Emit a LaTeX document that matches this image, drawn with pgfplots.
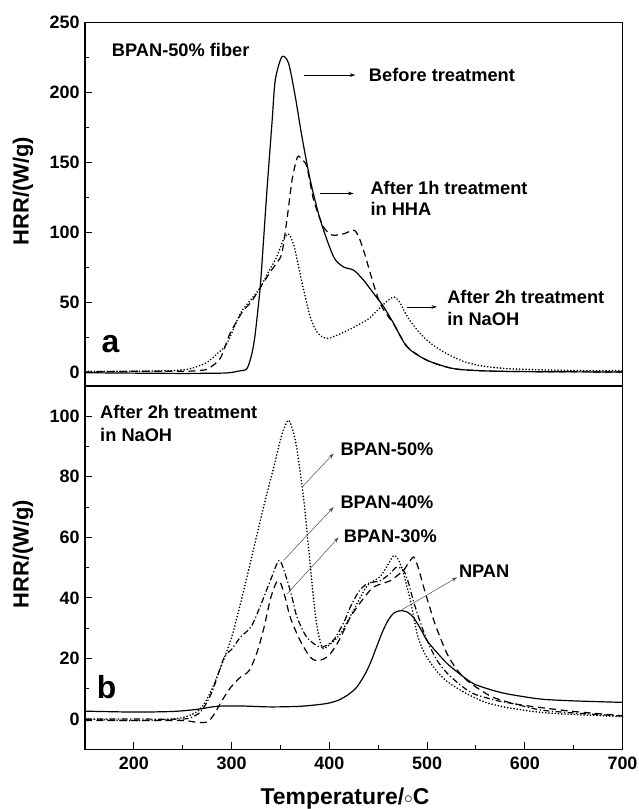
\documentclass[border=0pt]{standalone}
\usepackage{fontspec}
\setmainfont{Liberation Sans}
\usepackage{pgfplots}
\pgfplotsset{compat=1.18}
\usetikzlibrary{arrows.meta}
\begin{document}
\begin{tikzpicture}
\tikzset{
  ann/.style={font=\bfseries\fontsize{18.3}{18.3}\selectfont, inner sep=0pt},
  arr/.style={-{Stealth[length=5.5bp,width=3.5bp]}, line width=0.5bp},
}
\pgfplotsset{
  hrrbase/.style={
    scale only axis, width=537.5bp, height=363.3bp,
    xmin=150, xmax=700, clip=false,
    axis line style={line width=1.2bp},
    tick pos=left,
    tick style={black, line width=1bp},
    major tick length=7bp, minor tick length=4bp,
    tick label style={font=\bfseries\fontsize{18}{18}\selectfont},
    /pgf/number format/assume math mode=true,
    yticklabel style={xshift=-2bp},
    xticklabel style={yshift=-4bp},
    ylabel={HRR/(W/g)},
    every axis y label/.style={at={(axis description cs:-0.1153,0.537)}, rotate=90, anchor=center, font=\bfseries\fontsize{22}{22}\selectfont},
    minor y tick num=1,
  },
  solidc/.style={black, line width=1.2bp, smooth, tension=0.45},
  dashc/.style={black, line width=1.2bp, smooth, tension=0.45, dash pattern=on 7bp off 4.5bp},
  dotc/.style={black, line width=1.8bp, smooth, tension=0.45, line cap=round, dash pattern=on 0bp off 3.2bp},
  dashdotc/.style={black, line width=1.2bp, smooth, tension=0.45, dash pattern=on 6bp off 2.5bp on 1.2bp off 2.5bp},
}
% ---------------- bottom panel (b) ----------------
\begin{axis}[hrrbase, at={(0bp,0bp)}, anchor=south west,
  ymin=-10, ymax=110, ytick={0,20,...,100},
  xtick={200,300,...,700}, minor x tick num=1,
  xlabel={Temperature/\raisebox{0.15ex}{\fontsize{17}{17}\selectfont$\circ$}C},
  every axis x label/.style={at={(axis description cs:0.4837,-0.1533)}, anchor=base, font=\bfseries\fontsize{23}{23}\selectfont},
]
% NPAN
\addplot[solidc] coordinates {
(150,2.6) (200,2.3) (240,2.5) (265,3.2) (285,4.2) (310,4.3) (340,4.0) (370,4.2) (390,4.8) (400,5.3) (410,6.3) (420,8.2) (428,10.5) (436,14.5) (442,18.5) (448,23.5) (454,28.5) (460,32.5) (466,35) (473,35.8) (480,35.3) (486,33.6) (493,30) (500,25.9) (510,22) (521,18.2) (535,14.5) (548,11.6) (565,9.7) (582,8.3) (616,6.6) (650,6) (700,5.5)};
% BPAN-50% (dotted)
\addplot[dotc] coordinates {
(150,0) (200,-0.5) (240,0) (255,1) (265,2.5) (272,5) (280,10) (290,18) (300,27) (309,38) (318,50) (326,61) (335,73) (343,83) (351.5,94) (358,98.7) (363,95) (367,88.8) (374,72) (379,55.7) (386,33.6) (392.5,23.7) (400,24.5) (411,28) (425,36) (438.6,44) (452,47) (460,51) (466,54) (471,52.5) (476,48) (483,39) (490,28) (497,22) (507,17) (520,12.5) (541,8.3) (560,5.5) (582,3.8) (616,2.2) (650,1.5) (700,0.8)};
% BPAN-40% (dash-dot)
\addplot[dashdotc] coordinates {
(150,0) (200,0) (250,0) (262,1) (270,3) (280,9) (292,20) (300,23) (309,27) (320,30.5) (329,37) (340,46) (349,52.4) (357,45.7) (362,40) (367,33.6) (377,27) (391,23.7) (404,26) (415,32) (421.5,37) (430,42) (438.6,44.7) (452,45.7) (462,48) (469,50.2) (476,49) (481,45) (486,39) (493,32) (500,26) (510,19.5) (521,15) (535,11) (548,8.3) (570,6.2) (589,5) (616,3) (650,2) (700,1)};
% BPAN-30% (dashed)
\addplot[dashc] coordinates {
(150,-0.5) (200,-0.5) (250,-0.5) (262,-1) (275,-1) (282,1.5) (290,6) (299,10.4) (309,13.8) (318,16) (326,22) (333,30) (340,40) (346,45.2) (350,45) (355,40) (360,33.6) (370,26) (380.5,20.4) (387,19.3) (394,19.8) (401,21.5) (410,26) (421.5,33.6) (433,39) (445,43.5) (462.5,45.7) (470,47.5) (476,49.1) (481,51.5) (486.4,53.5) (491,50) (496.6,43.5) (507,32.5) (514,26.5) (520.6,21.5) (530,16.5) (541,12.7) (555,9.5) (568,7.1) (590,5) (616,3.8) (650,2.5) (700,1.1)};
% annotations
\node[ann, anchor=base west] at (axis cs:165.4,99.3) {After 2h treatment};
\node[ann, anchor=base west] at (axis cs:165.4,91.6) {in NaOH};
\node[font=\bfseries\fontsize{32}{32}\selectfont, inner sep=0pt, anchor=base] at (axis cs:172.2,6.7) {b};
\draw[arr, gray!60!black] (axis cs:372,76.6) -- (axis cs:404.4,87.7);
\node[ann, anchor=base west] at (axis cs:411.3,87.2) {BPAN-50\%};
\draw[arr, gray!60!black] (axis cs:353.2,52.4) -- (axis cs:404.4,70);
\node[ann, anchor=base west] at (axis cs:411.3,69.5) {BPAN-40\%};
\draw[arr, gray!60!black] (axis cs:356.7,41.3) -- (axis cs:409.5,60);
\node[ann, anchor=base west] at (axis cs:414.8,58.2) {BPAN-30\%};
\draw[arr, gray!60!black] (axis cs:472.7,35.8) -- (axis cs:530.8,46.8);
\node[ann, anchor=base west] at (axis cs:532.5,46.9) {NPAN};
\end{axis}
% ---------------- top panel (a) ----------------
\begin{axis}[hrrbase, at={(0bp,363.3bp)}, anchor=south west,
  ymin=-10, ymax=250, ytick={0,50,...,250},
  xtick=\empty,
]
% Before treatment (solid)
\addplot[solidc] coordinates {
(150,-0.5) (200,-0.8) (250,-1) (290,-0.8) (300,-0.3) (308,0.8) (315.7,2.4) (320.8,13.2) (324.2,27.5) (329.3,60.9) (332.7,94.3) (336.2,130.2) (341.3,178) (344.7,209) (351.5,225.6) (358.3,221) (365.2,197) (372,168.3) (380.5,137.3) (390.8,108.7) (404.4,82.4) (414.6,75.2) (424.9,72.9) (435.1,65.7) (445.4,56.2) (455.7,46.6) (465.9,34.7) (479.6,17.9) (500,8.4) (527.4,2.4) (560,0.8) (600,0.3) (700,0)};
% After 1h in HHA (dashed)
\addplot[dashc] coordinates {
(150,0) (200,0.5) (250,0.5) (265,1) (275,2) (285,7) (290,12) (298,27) (305,36) (312,44) (320,50) (329,60) (340,72) (346,78) (351.5,85) (357,111) (362,138) (367.5,154) (372,152) (377,147) (384,123) (394,104) (403,98) (415,99) (425,101.5) (430,97) (436,85) (442,70.5) (452,49) (466,34) (480,18) (500,8.4) (527,2.4) (560,0.8) (600,0.3) (700,0)};
% After 2h in NaOH (dotted)
\addplot[dotc] coordinates {
(150,0.5) (200,0.5) (240,1) (255,2) (265,4) (275,7) (285,13) (295,20) (309,42) (320,52) (329,60) (338,72) (346,82) (352,93) (358,99) (364,90) (370,70.5) (375,55) (380.5,39.4) (388,28) (397.6,24) (410,27) (425,32) (440,38) (449,44) (458,50) (466,53.7) (472,50) (480,39.4) (490,30) (500,22.7) (513,16) (527,10.7) (540,7) (555,4.5) (580,2.5) (620,1.5) (660,1) (700,1)};
% annotations
\node[ann, anchor=base west] at (axis cs:177.4,225.6) {BPAN-50\% fiber};
\node[font=\bfseries\fontsize{32}{32}\selectfont, inner sep=0pt, anchor=base] at (axis cs:176.1,14.1) {a};
\draw[arr] (axis cs:373.7,212.5) -- (axis cs:426.6,212.5);
\node[ann, anchor=base west] at (axis cs:440.4,207.9) {Before treatment};
\draw[arr] (axis cs:390.8,127.8) -- (axis cs:424.9,127.8);
\node[ann, anchor=base west] at (axis cs:442,126.7) {After 1h treatment};
\node[ann, anchor=base west] at (axis cs:442,111.7) {in HHA};
\draw[arr] (axis cs:479.6,46.6) -- (axis cs:510.2,46.6);
\node[ann, anchor=base west] at (axis cs:520.5,49.1) {After 2h treatment};
\node[ann, anchor=base west] at (axis cs:520.5,33.6) {in NaOH};
\end{axis}
\pgfresetboundingbox
\useasboundingbox (-85bp,-59.7bp) rectangle (554bp,749.3bp);
\end{tikzpicture}
\end{document}
